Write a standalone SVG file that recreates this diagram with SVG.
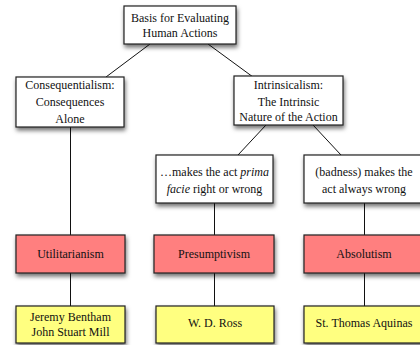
<svg xmlns="http://www.w3.org/2000/svg" width="420" height="345" viewBox="0 0 420 345">
<defs>
<filter id="sh" x="-20%" y="-20%" width="140%" height="160%">
<feDropShadow dx="1" dy="3" stdDeviation="2" flood-color="#000" flood-opacity="0.55"/>
</filter>
<style>
.box{stroke:#222;stroke-width:1.2;filter:url(#sh)}
.w{fill:#fff}.r{fill:#ff7f7f}.y{fill:#ffff80}
text{font-family:"Liberation Serif","Times New Roman",serif;font-size:12px;fill:#111;text-anchor:middle}
.c line{stroke:#111;stroke-width:1}
</style>
</defs>
<rect width="420" height="345" fill="#fff"/>
<g class="c" id="connectors">
<line x1="150" y1="44" x2="106" y2="77"/>
<line x1="208" y1="44" x2="253" y2="77"/>
<line x1="70.5" y1="127" x2="70.5" y2="235"/>
<line x1="266" y1="125" x2="238" y2="155"/>
<line x1="313" y1="125" x2="341" y2="155"/>
<line x1="214.5" y1="203" x2="214.5" y2="235"/>
<line x1="364.5" y1="203" x2="364.5" y2="235"/>
<line x1="70.5" y1="273" x2="70.5" y2="306"/>
<line x1="214.5" y1="273" x2="214.5" y2="306"/>
<line x1="364.5" y1="273" x2="364.5" y2="306"/>
</g>
<g id="basis"><rect class="box w" x="124" y="6" width="112" height="38"/>
<text x="180" y="22">Basis for Evaluating</text><text x="180" y="37">Human Actions</text></g>
<g id="conseq"><rect class="box w" x="16" y="77" width="108" height="50"/>
<text x="70" y="88.5">Consequentialism:</text><text x="70" y="105.5">Consequences</text><text x="70" y="122.5">Alone</text></g>
<g id="intrins"><rect class="box w" x="234" y="76" width="109" height="49"/>
<text x="288.5" y="89">Intrinsicalism:</text><text x="288.5" y="105.5">The  Intrinsic</text><text x="288.5" y="121">Nature of the Action</text></g>
<g id="prima"><rect class="box w" x="156" y="155" width="117" height="48"/>
<text x="214.5" y="176">…makes the act <tspan font-style="italic">prima</tspan></text><text x="214.5" y="193"><tspan font-style="italic">facie</tspan> right or wrong</text></g>
<g id="badness"><rect class="box w" x="304" y="155" width="120" height="48"/>
<text x="364" y="176">(badness) makes the</text><text x="364" y="193">act always wrong</text></g>
<g id="util"><rect class="box r" x="16" y="235" width="109" height="38"/>
<text x="70.5" y="258">Utilitarianism</text></g>
<g id="presum"><rect class="box r" x="154" y="235" width="120" height="38"/>
<text x="214" y="258">Presumptivism</text></g>
<g id="absol"><rect class="box r" x="304" y="235" width="120" height="38"/>
<text x="364" y="258">Absolutism</text></g>
<g id="bentham"><rect class="box y" x="16" y="306" width="109" height="37"/>
<text x="70.5" y="321">Jeremy Bentham</text><text x="70.5" y="336">John Stuart Mill</text></g>
<g id="ross"><rect class="box y" x="156" y="306" width="118" height="37"/>
<text x="215" y="327">W. D. Ross</text></g>
<g id="aquinas"><rect class="box y" x="304" y="306" width="120" height="37"/>
<text x="364" y="327">St. Thomas Aquinas</text></g>
</svg>
